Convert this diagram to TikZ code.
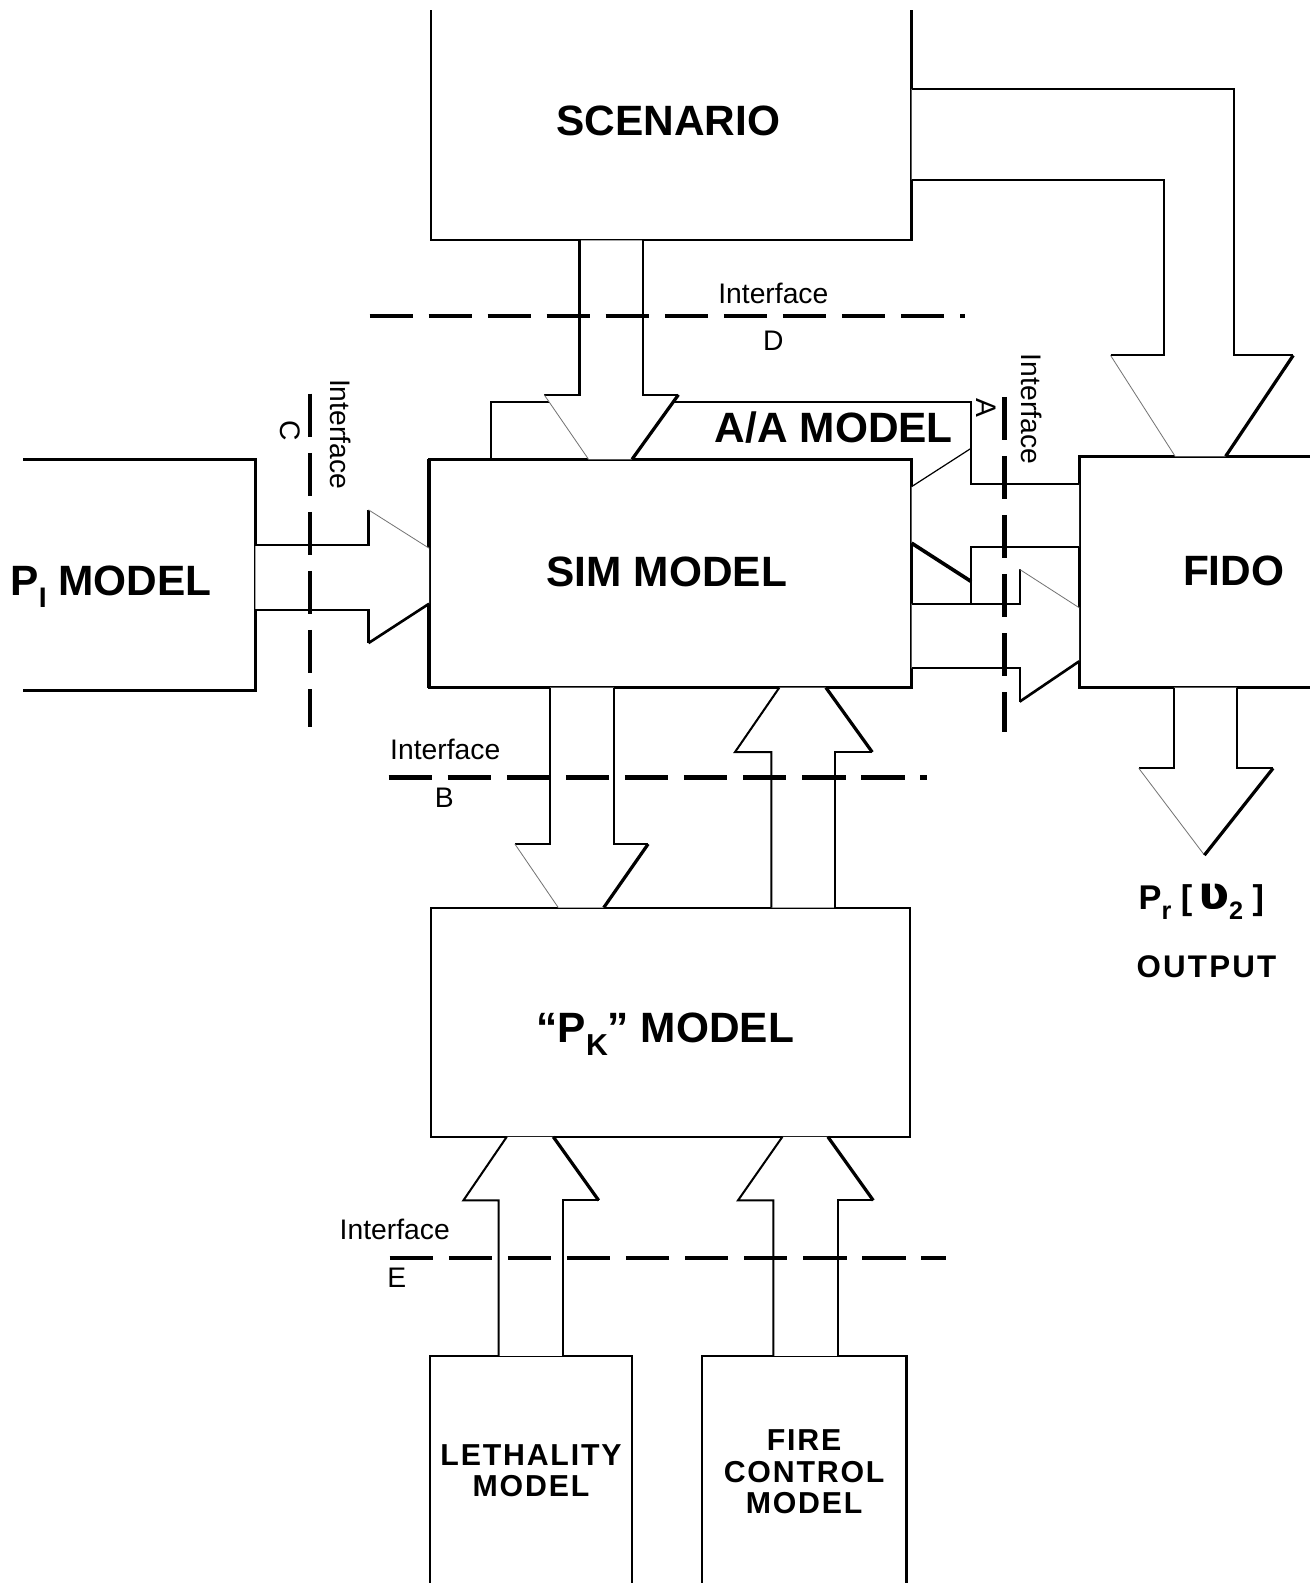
\documentclass[tikz,border=0pt]{standalone}
\usepackage{fontspec}
\setmainfont{Liberation Sans}
\newfontfamily\hookfont{DejaVu Sans}
\tikzset{
  box/.style={fill=white,inner sep=0pt,outer sep=0pt,align=center},
  title/.style={font=\fontsize{42}{46}\selectfont\bfseries,inner sep=0pt},
  smallbold/.style={font=\fontsize{30}{31}\selectfont\bfseries\addfontfeature{LetterSpace=6}},
  lab/.style={font=\fontsize{28}{30}\selectfont,inner sep=0pt},
  arr/.style={line width=2pt},
  lite/.style={line width=0.8pt,black!55},
  dark/.style={line width=3.2pt},
  iface/.style={line width=4.5pt,dash pattern=on 43pt off 15.5pt}
}
\newcommand\lowsub[2]{\smash{\raisebox{-0.3em}{\fontsize{#1}{#1}\selectfont #2}}}
% vertical block arrow pointing down: xl xr ystart ybase wingl wingr ytip tipl tipr
\newcommand\blkdown[9]{%
  \fill[white] (#1,#3) -- (#1,#4) -- (#5,#4) -- (#8,#7) -- (#9,#7) -- (#6,#4) -- (#2,#4) -- (#2,#3) -- cycle;
  \draw[arr] (#1,#3) -- (#1,#4) -- (#5,#4);
  \draw[lite] (#5,#4) -- (#8,#7);
  \draw[dark] (#9,#7) -- (#6,#4);
  \draw[arr] (#6,#4) -- (#2,#4) -- (#2,#3);}
% vertical block arrow pointing up
\newcommand\blkup[9]{%
  \fill[white] (#1,#3) -- (#1,#4) -- (#5,#4) -- (#8,#7) -- (#9,#7) -- (#6,#4) -- (#2,#4) -- (#2,#3) -- cycle;
  \draw[arr] (#1,#3) -- (#1,#4) -- (#5,#4) -- (#8,#7);
  \draw[dark] (#9,#7) -- (#6,#4);
  \draw[arr] (#6,#4) -- (#2,#4) -- (#2,#3);}
% horizontal block arrow pointing right: ytop ybot xstart xbase wingtop wingbot xtip tiptop tipbot
\newcommand\blkright[9]{%
  \fill[white] (#3,#1) -- (#4,#1) -- (#4,#5) -- (#7,#8) -- (#7,#9) -- (#4,#6) -- (#4,#2) -- (#3,#2) -- cycle;
  \draw[arr] (#3,#1) -- (#4,#1) -- (#4,#5);
  \draw[lite] (#4,#5) -- (#7,#8);
  \draw[line width=2.6pt] (#7,#9) -- (#4,#6);
  \draw[arr] (#4,#6) -- (#4,#2) -- (#3,#2);}
\begin{document}
\begin{tikzpicture}[x=1pt,y=-1pt]
\fill[white] (0,0) rectangle (1297,1568);
\useasboundingbox (0,0) rectangle (1297,1568);

% ---------- boxes ----------
\node[box,minimum width=476pt,minimum height=228pt] (scen) at (665,124) {};
\draw[line width=2.4pt] (scen.north west) -- (scen.south west) -- (scen.south east) -- (scen.north east);
\node[title] (scenT) at (662,120) {SCENARIO};

\node[box,minimum width=476pt,minimum height=81pt,anchor=north west] (aa) at (486,398) {};
\draw[line width=2.2pt] (aa.south west) -- (aa.north west) -- (aa.north east) -- (aa.south east);

\node[box,draw,line width=2.6pt,minimum width=478pt,minimum height=226pt] (sim) at (664,568) {};
\draw[line width=4.5pt] (sim.north west) -- (sim.south west);
\node[title] (simT) at (660.5,566) {SIM MODEL};

\node[box,minimum width=286pt,minimum height=229pt] (pi) at (110,569.5) {};
\coordinate (piL) at (23,0);
\draw[line width=2.6pt] (pi.north east -| piL) -- (pi.north east) -- (pi.south east) -- (pi.south east -| piL);
\node[title] (piT) at (110,575) {P\lowsub{28}{I} MODEL};

\node[box,draw,line width=2.8pt,minimum width=306pt,minimum height=229pt] (fido) at (1222,566.5) {};
\node[title] (fidoT) at (1222,565) {FIDO};

\node[box,draw,line width=2.2pt,minimum width=474pt,minimum height=227pt] (pk) at (664,1012.5) {};
\node[title] (pkT) at (659,1018) {“P\lowsub{30}{K}” MODEL};

\node[box,smallbold,draw,line width=2.2pt,minimum width=200pt,minimum height=228pt] (leth) at (526,1457)
  {LETHALITY\\MODEL};
\node[box,smallbold,draw,line width=2.2pt,minimum width=203pt,minimum height=230pt] (fire) at (796.5,1458)
  {FIRE\\CONTROL\\MODEL};

% ---------- block arrows ----------
% SCENARIO -> FIDO
\fill[white] (903,88) -- (1222,88) -- (1222,352) -- (1281,352) -- (1214,452) -- (1164,452)
  -- (1100,352) -- (1153,352) -- (1153,178) -- (903,178) -- cycle;
\draw[arr] (903,88) -- (1222,88) -- (1222,352) -- (1281,352);
\draw[dark] (1281,352) -- (1214,452);
\draw[lite] (1164,452) -- (1100,352);
\draw[arr] (1100,352) -- (1153,352) -- (1153,178) -- (903,178);

% SCENARIO -> SIM
\blkdown{574}{637}{238}{391}{539}{672}{455}{583}{626}

% FIDO -> SIM (pointing left)
\fill[white] (1069,479) -- (962,479) -- (962,444) -- (903,482) -- (903,538) -- (962,576) -- (962,542) -- (1069,542) -- cycle;
\draw[arr] (1069,479) -- (962,479) -- (962,444);
\draw[line width=1.2pt] (962,444) -- (903,482);
\draw[line width=3.6pt] (903,538) -- (962,576);
\draw[arr] (962,598) -- (962,542) -- (1069,542);

% SIM -> FIDO
\blkright{598}{662}{903}{1010}{564}{695}{1069}{602}{655}

% P_I -> SIM
\blkright{540}{604}{253}{365}{505}{637}{425}{543}{598}

% SIM -> PK
\blkdown{545}{608}{681}{836}{510}{642}{899}{553}{598}
% PK -> SIM
\blkup{764}{827}{899}{745}{728}{864}{681}{772}{818}
% LETHALITY -> PK
\blkup{494}{558}{1343}{1189}{459}{593}{1126}{502}{548}
% FIRE CONTROL -> PK
\blkup{766}{830}{1343}{1189}{731}{865}{1126}{775}{820}
% FIDO -> OUTPUT
\blkdown{1163}{1225}{681}{761}{1128}{1261}{847}{1193}{1193}

% ---------- interfaces ----------
\draw[iface] (366,313) -- (956,313);
\draw[iface] (385,770) -- (918,770);
\draw[iface] (386,1246) -- (937,1246);
\draw[iface] (307,390) -- (307,720);
\draw[iface] (995,393) -- (995,725);

\node[lab] (ifD) at (766,291) {Interface};
\node[lab] (lD) at (766,338) {D};
\node[lab] (ifB) at (441,742) {Interface};
\node[lab] (lB) at (440,790) {B};
\node[lab] (ifE) at (391,1218) {Interface};
\node[lab] (lE) at (393,1266) {E};
\node[lab,rotate=-90] (ifC) at (337,430) {Interface};
\node[lab,rotate=-90] (lC) at (287,427) {C};
\node[lab,rotate=-90] (ifA) at (1022,405) {Interface};
\node[lab,rotate=-90] (lA) at (977,404) {A};

% ---------- texts ----------
\node[title] (aatext) at (826,424) {A/A MODEL};
\node[font=\fontsize{34}{36}\selectfont\bfseries,inner sep=0pt] (outp) at (1190,892)
  {P\lowsub{25}{r} [\,{\hookfont\fontsize{46}{46}\selectfont\bfseries ʋ}\lowsub{25}{2} ]};
\node[font=\fontsize{31}{33}\selectfont\bfseries\addfontfeature{LetterSpace=7},inner sep=0pt] (outt) at (1195,958) {OUTPUT};
\end{tikzpicture}
\end{document}
